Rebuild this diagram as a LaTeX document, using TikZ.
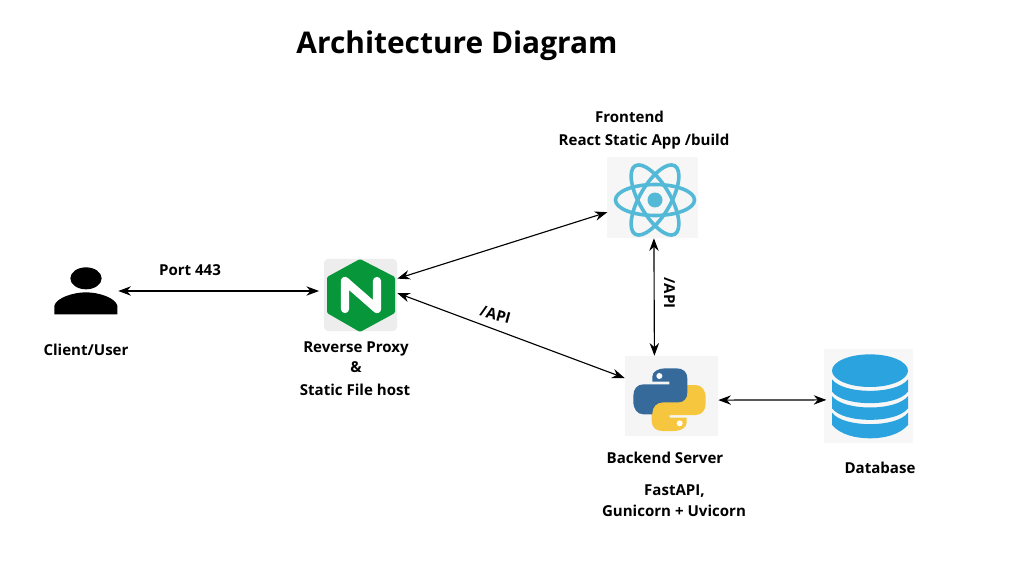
\documentclass[tikz,border=0pt]{standalone}
\usepackage{fontspec}
\setmainfont{Open Sans}
\usetikzlibrary{arrows.meta}
\definecolor{reactblue}{HTML}{54B9D7}
\definecolor{pyblue}{HTML}{366A9B}
\definecolor{pyyellow}{HTML}{F7C63F}
\definecolor{dbblue}{HTML}{2AA3DF}
\definecolor{nginxgreen}{HTML}{08963A}
\tikzset{
  x=0.75pt,y=-0.75pt,
  label text/.style={font=\bfseries\fontsize{11.3pt}{13pt}\selectfont,text=black,inner sep=0pt,anchor=base},
  title text/.style={font=\bfseries\fontsize{22.4pt}{26pt}\selectfont,text=black,inner sep=0pt,anchor=base},
  icon box/.style={draw=none,inner sep=0pt,minimum width=#1},
  link/.style={draw=black,line width=0.85pt,{Stealth[length=9.5pt,width=7pt]}-{Stealth[length=9.5pt,width=7pt]}}
}
\begin{document}
\begin{tikzpicture}
\useasboundingbox (0,0) rectangle (1018,574);
\fill[white] (0,0) rectangle (1018,574);
% icon backgrounds (named nodes)
\node[icon box=64*0.75pt,minimum height=48*0.75pt] (user) at (86,291) {};
\node[icon box=73*0.75pt,minimum height=72*0.75pt,fill=black!7,rounded corners=3pt] (nginx) at (360.5,295) {};
\node[icon box=91*0.75pt,minimum height=81*0.75pt,fill=black!3.5] (react) at (652.5,197.5) {};
\node[icon box=93*0.75pt,minimum height=80*0.75pt,fill=black!4] (python) at (671.5,396) {};
\node[icon box=89*0.75pt,minimum height=94*0.75pt,fill=black!3] (db) at (868.5,396) {};
% user icon
\begin{scope}[shift={(40,255)},x=0.25pt,y=-0.25pt]
\fill[black] (138,70) ellipse [x radius=47,y radius=33];
\fill[black] (43,178) -- (43,152) .. controls (50,128) and (100,112) .. (138,112) .. controls (176,112) and (226,128) .. (232,152) -- (232,178) -- cycle;
\end{scope}
% nginx icon
\fill[nginxgreen,rounded corners=1pt] (360,259) -- (395,277) -- (395,313) -- (360,332) -- (327,313) -- (327,277) -- cycle;
\draw[white,line width=6.2pt,line join=round,line cap=round] (345,309) -- (345,281) -- (377,309) -- (377,281);
% react icon
\begin{scope}[shift={(655,200)}]
\foreach \a in {0,60,120}
  \draw[reactblue,line width=2.7pt,rotate=\a] (0,0) ellipse [x radius=39.5,y radius=15.5];
\fill[reactblue] (0,0) circle [radius=7.5];
\end{scope}
% python icon
\begin{scope}[shift={(610,345)},x=0.25pt,y=-0.25pt]
\fill[pyyellow,rotate around={180:(178.5,164)}] (165,70) -- (200,70) .. controls (220,70) and (232,82) .. (232,100) -- (232,142) .. controls (232,160) and (222,172) .. (205,172) -- (160,172) .. controls (140,172) and (127,185) .. (127,205) -- (127,208) -- (100,208) .. controls (82,208) and (70,192) .. (70,170) -- (70,152) .. controls (70,132) and (82,118) .. (100,118) -- (178,118) -- (178,110) -- (127,110) -- (127,95) .. controls (127,80) and (145,70) .. (165,70) -- cycle;
\fill[pyblue] (165,70) -- (200,70) .. controls (220,70) and (232,82) .. (232,100) -- (232,142) .. controls (232,160) and (222,172) .. (205,172) -- (160,172) .. controls (140,172) and (127,185) .. (127,205) -- (127,208) -- (100,208) .. controls (82,208) and (70,192) .. (70,170) -- (70,152) .. controls (70,132) and (82,118) .. (100,118) -- (178,118) -- (178,110) -- (127,110) -- (127,95) .. controls (127,80) and (145,70) .. (165,70) -- cycle;
\fill[white] (148,93) circle [radius=9];
\fill[white] (209,235) circle [radius=9];
\end{scope}
% database icon
\begin{scope}[shift={(810,340)},x=0.25pt,y=-0.25pt]
\fill[dbblue] (180,92) ellipse [x radius=114,y radius=49];
\fill[dbblue] (66,118) .. controls (100,164) and (260,164) .. (294,118) -- (294,155) .. controls (260,201) and (100,201) .. (66,155) -- cycle;
\fill[dbblue] (66,168) .. controls (100,214) and (260,214) .. (294,168) -- (294,205) .. controls (260,251) and (100,251) .. (66,205) -- cycle;
\fill[dbblue] (66,218) .. controls (100,264) and (260,264) .. (294,218) -- (294,255) .. controls (270,283) and (225,295) .. (180,295) .. controls (135,295) and (90,283) .. (66,255) -- cycle;
\end{scope}
% connectors
\draw[link,shorten >=3.5pt] (user.east) -- (nginx.west |- user.east);
\draw[link,shorten >=-0.5pt] (nginx.24) -- (react.198);
\draw[link,shorten >=0pt] (nginx.3) -- (python.159);
\draw[link] (react.272) -- (python.113.6);
\draw[link,shorten >=-2pt] (python.-5) -- (db.185);
% texts
\node[title text] (title) at (457,53.5) {Architecture Diagram};
\node[label text] (port) at (190,276) {Port 443};
\node[label text] (client) at (86,355) {Client/User};
\node[label text] (rp1) at (356,352) {Reverse Proxy};
\node[label text] (rp2) at (356,372.5) {\&};
\node[label text] (rp3) at (355,395) {Static File host};
\node[label text] (fe1) at (629.5,123) {Frontend};
\node[label text] (fe2) at (644,146) {React Static App /build};
\node[label text,rotate=-15] (api1) at (494,320) {/API};
\node[label text,rotate=-90] (api2) at (664,293) {/API};
\node[label text] (be1) at (665,463) {Backend Server};
\node[label text] (be2) at (674.5,495) {FastAPI,};
\node[label text] (be3) at (674,516) {Gunicorn + Uvicorn};
\node[label text] (dbl) at (880,473) {Database};
\end{tikzpicture}
\end{document}
